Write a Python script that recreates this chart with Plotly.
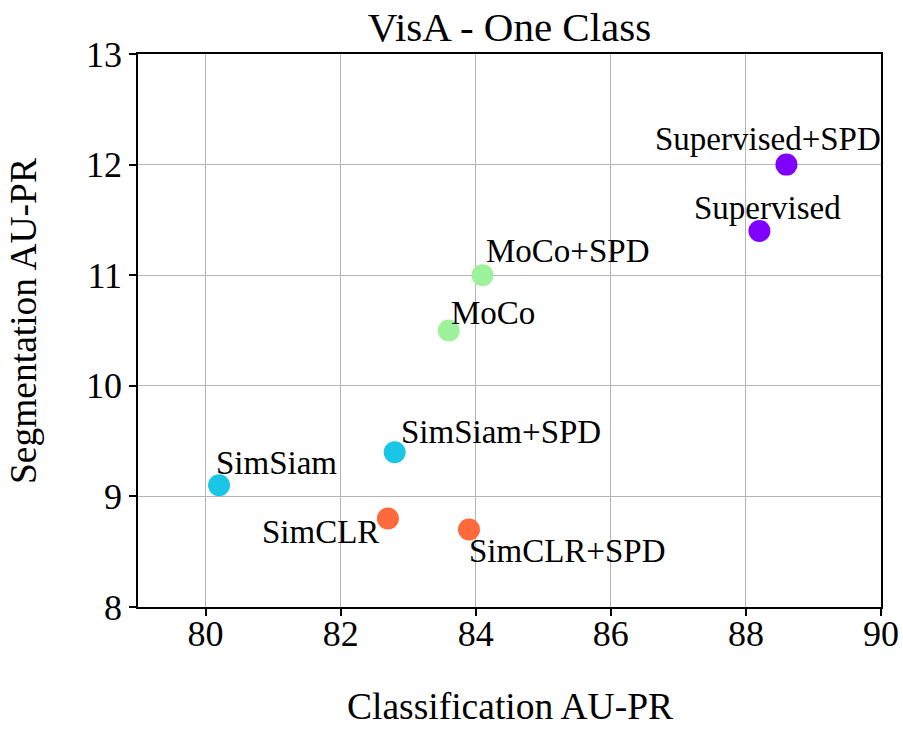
import plotly.graph_objects as go

# data
methods = ["Supervised+SPD", "Supervised", "MoCo+SPD", "MoCo",
           "SimSiam+SPD", "SimSiam", "SimCLR", "SimCLR+SPD"]
cls_aupr = [88.6, 88.2, 84.1, 83.6, 82.8, 80.2, 82.7, 83.9]
seg_aupr = [12.0, 11.4, 11.0, 10.5, 9.4, 9.1, 8.8, 8.7]
family = ["Supervised", "Supervised", "MoCo", "MoCo",
          "SimSiam", "SimSiam", "SimCLR", "SimCLR"]

x_ticks = [80, 82, 84, 86, 88, 90]
y_ticks = [8, 9, 10, 11, 12, 13]

family_colors = {
    "Supervised": "#8000ff",
    "MoCo": "#9ff29c",
    "SimSiam": "#19c6e6",
    "SimCLR": "#ff6a3d",
}

# label placement in pixels relative to the marker: (xshift, yshift, xanchor)
label_pos = {
    "Supervised+SPD": (-133, 26, "left"),
    "Supervised": (-67, 23, "left"),
    "MoCo+SPD": (2, 24, "left"),
    "MoCo": (0, 18, "left"),
    "SimSiam+SPD": (4, 20, "left"),
    "SimSiam": (-5, 22, "left"),
    "SimCLR": (-7, -13, "right"),
    "SimCLR+SPD": (-2, -21, "left"),
}

FONT = "Liberation Serif, Times New Roman, serif"

W, H = 903, 732

fig = go.Figure()
fig.add_trace(go.Scatter(
    x=cls_aupr, y=seg_aupr, mode="markers",
    marker=dict(size=22, color=[family_colors[f] for f in family], line=dict(width=0)),
    text=methods, hoverinfo="text", showlegend=False,
))

# point labels
for name, x, y in zip(methods, cls_aupr, seg_aupr):
    dx, dy, anchor = label_pos[name]
    fig.add_annotation(x=x, y=y, text=name, showarrow=False,
                       xanchor=anchor, yanchor="middle",
                       xshift=dx, yshift=dy,
                       font=dict(family=FONT, size=33, color="black"))

# axis titles
fig.add_annotation(xref="paper", yref="paper", x=0.5, y=0, text="Classification AU-PR",
                   showarrow=False, xanchor="center", yanchor="middle", yshift=-99,
                   font=dict(family=FONT, size=37.5, color="black"))
fig.add_annotation(xref="paper", yref="paper", x=0, y=0.517, text="Segmentation AU-PR",
                   showarrow=False, xanchor="center", yanchor="middle", xshift=-115,
                   textangle=-90, font=dict(family=FONT, size=37.5, color="black"))

axis_common = dict(
    showline=True, linecolor="black", linewidth=1.5, mirror=True,
    showgrid=True, gridcolor="#b4b4b4", gridwidth=1.2,
    ticks="outside", ticklen=7, tickwidth=1.5, tickcolor="black",
    tickfont=dict(family=FONT, size=36, color="black"),
    zeroline=False, automargin=False,
)

fig.update_layout(
    width=W, height=H,
    margin=dict(l=138, r=22, t=54, b=125),
    paper_bgcolor="white", plot_bgcolor="white",
    title=dict(text="VisA - One Class", x=509.5 / W, xref="container", xanchor="center",
               y=1 - 27 / H, yref="container", yanchor="middle",
               font=dict(family=FONT, size=41, color="black")),
    xaxis=dict(range=[79, 90], tickvals=x_ticks, ticklabelstandoff=-13, **axis_common),
    yaxis=dict(range=[8, 13], tickvals=y_ticks, **axis_common),
)

# drop the default 8px body margin so the figure fills the window exactly
fig.write_html("out.html", config={"displayModeBar": False},
               post_script="document.body.style.margin='0';")
